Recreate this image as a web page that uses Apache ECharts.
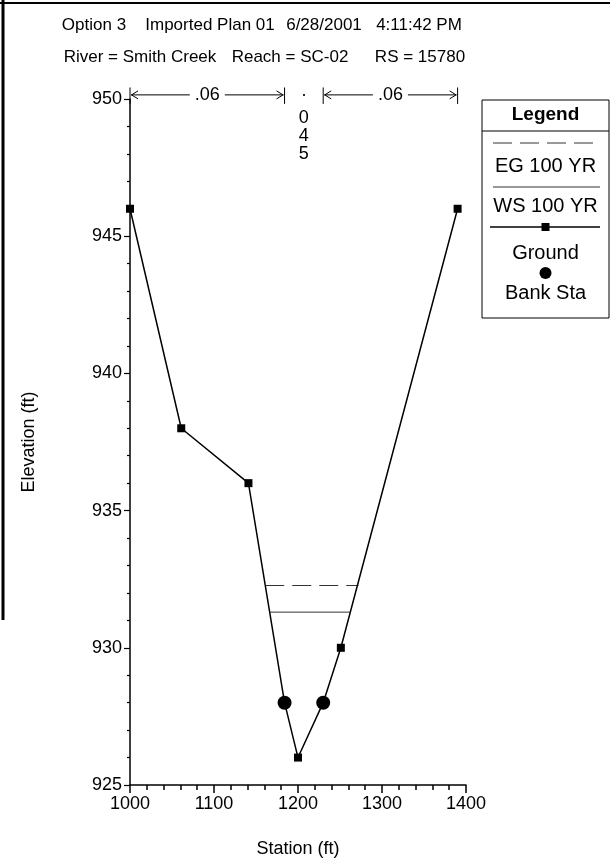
<!DOCTYPE html>
<html><head><meta charset="utf-8">
<script src="https://cdn.jsdelivr.net/npm/echarts@6/dist/echarts.min.js"></script>
<style>html,body{margin:0;padding:0;background:#fff}#c{width:610px;height:865px}</style>
</head><body><div id="c"></div>
<script>
// ---- data ----
const titleLine1 = ['Option 3', 'Imported Plan 01', '6/28/2001', '4:11:42 PM'];
const titleLine2 = ['River = Smith Creek', 'Reach = SC-02', 'RS = 15780'];
const groundStation = [1000, 1061, 1141, 1184, 1200, 1230, 1251, 1390];
const groundElev    = [946, 938, 936, 928, 926, 928, 930, 946];
const bankStation = [1184, 1230];
const bankElev    = [928, 928];
const egStation = [1161, 1272];
const egElev    = [932.27, 932.27];
const wsStation = [1166, 1263];
const wsElev    = [931.3, 931.3];
const manningBreaks = [1000, 1184, 1230, 1390];
const manningN = ['.06', '.045', '.06'];
const manningElev = 950.15;
const xTicks = [1000, 1100, 1200, 1300, 1400];
const yTicks = [925, 930, 935, 940, 945, 950];
const legendNames = ['EG 100 YR', 'WS 100 YR', 'Ground', 'Bank Sta'];

const FONT = '"Liberation Sans", Arial, Helvetica, sans-serif';
const zip = (a, b) => a.map((v, i) => [v, b[i]]);

// Manning zones: [startStation, endStation, elevation, zoneIndex]
const nZones = manningN.map((n, i) => [manningBreaks[i], manningBreaks[i + 1], manningElev, i]);

function renderManning(params, api) {
  const sA = api.value(0), sB = api.value(1), el = api.value(2), idx = api.value(3);
  const p1 = api.coord([sA, el]);
  const p2 = api.coord([sB, el]);
  const top = api.coord([sA, el + 0.27])[1];
  const bot = api.coord([sA, el - 0.33])[1];
  const y = p1[1];
  const midX = (p1[0] + p2[0]) / 2;
  const ls = { stroke: '#000', lineWidth: 1, fill: null };
  const children = [];
  if (idx === 1) {
    // channel n written vertically
    manningN[idx].split('').forEach((ch, i) => {
      children.push({
        type: 'text',
        style: { text: ch, x: midX, y: y + (i === 0 ? -4 : 5 + 18 * i), align: 'center', verticalAlign: 'middle',
          font: '18px ' + FONT, fill: '#000' }
      });
    });
    return { type: 'group', children };
  }
  children.push(
    { type: 'line', shape: { x1: p1[0], y1: top, x2: p1[0], y2: bot }, style: ls },
    { type: 'line', shape: { x1: p2[0], y1: top, x2: p2[0], y2: bot }, style: ls },
    { type: 'line', shape: { x1: p1[0] + 1, y1: y, x2: p2[0] - 1, y2: y }, style: ls },
    { type: 'polyline', shape: { points: [[p1[0] + 8, y - 4], [p1[0] + 1.5, y], [p1[0] + 8, y + 4]] }, style: ls },
    { type: 'polyline', shape: { points: [[p2[0] - 8, y - 4], [p2[0] - 1.5, y], [p2[0] - 8, y + 4]] }, style: ls },
    {
      type: 'text',
      style: { text: manningN[idx], x: midX, y: y, align: 'center', verticalAlign: 'middle',
        font: '18px ' + FONT, fill: '#000', backgroundColor: '#fff', padding: [0, 5] }
    }
  );
  return { type: 'group', children };
}

const chart = echarts.init(document.getElementById('c'), null, { renderer: 'canvas' });

const gText = (x, y, text, opts = {}) => Object.assign({
  type: 'text', x, y,
  style: Object.assign({ text, fill: '#000', font: '17px ' + FONT, textAlign: 'center', textVerticalAlign: 'middle' }, opts)
});

const LX = 482, LY = 100, LW = 127, LH = 218, LC = LX + LW / 2;
const graphics = [
  // frame lines (scan border)
  { type: 'line', shape: { x1: 0, y1: 3, x2: 610, y2: 3 }, style: { stroke: '#000', lineWidth: 2 } },
  { type: 'line', shape: { x1: 3, y1: 0, x2: 3, y2: 620 }, style: { stroke: '#000', lineWidth: 3 } },
  // title
  gText(94, 25, titleLine1[0]), gText(210, 25, titleLine1[1]), gText(324, 25, titleLine1[2]), gText(419, 25, titleLine1[3]),
  gText(140, 57, titleLine2[0]), gText(290, 57, titleLine2[1]), gText(420, 57, titleLine2[2]),
  // legend box
  { type: 'rect', shape: { x: LX, y: LY, width: LW, height: LH }, style: { fill: '#fff', stroke: '#000', lineWidth: 1 } },
  gText(LC, 115, 'Legend', { font: 'bold 19px ' + FONT }),
  { type: 'line', shape: { x1: LX, y1: 131, x2: LX + LW, y2: 131 }, style: { stroke: '#000', lineWidth: 1 } },
  { type: 'line', shape: { x1: 493, y1: 143, x2: 600, y2: 143 }, style: { stroke: '#333', lineWidth: 1, lineDash: [19, 8] } },
  gText(LC, 166, legendNames[0], { font: '20px ' + FONT }),
  { type: 'line', shape: { x1: 493, y1: 187, x2: 600, y2: 187 }, style: { stroke: '#333', lineWidth: 1 } },
  gText(LC, 206, legendNames[1], { font: '20px ' + FONT }),
  { type: 'line', shape: { x1: 490, y1: 227, x2: 600, y2: 227 }, style: { stroke: '#000', lineWidth: 1.5 } },
  { type: 'rect', shape: { x: LC - 4, y: 223, width: 8, height: 8 }, style: { fill: '#000' } },
  gText(LC, 253, legendNames[2], { font: '20px ' + FONT }),
  { type: 'circle', shape: { cx: LC, cy: 273, r: 6 }, style: { fill: '#000' } },
  gText(LC, 293, legendNames[3], { font: '20px ' + FONT })
];

const option = {
  backgroundColor: '#fff',
  animation: false,
  grid: { left: 130, right: 144, top: 99, bottom: 80 },
  xAxis: {
    type: 'value', min: xTicks[0], max: xTicks[xTicks.length - 1], interval: 100,
    name: 'Station (ft)', nameLocation: 'middle', nameGap: 55,
    nameTextStyle: { color: '#000', fontSize: 18, fontFamily: FONT },
    axisLine: { lineStyle: { color: '#000', width: 1.5 } },
    axisTick: { show: true, length: 8, lineStyle: { color: '#000', width: 1.5 } },
    minorTick: { show: true, splitNumber: 5, length: 5, lineStyle: { color: '#000', width: 1.5 } },
    axisLabel: { color: '#000', fontSize: 18, fontFamily: FONT, margin: 10, formatter: v => String(v) },
    splitLine: { show: false }, minorSplitLine: { show: false }
  },
  yAxis: {
    type: 'value', min: yTicks[0], max: yTicks[yTicks.length - 1], interval: 5,
    name: 'Elevation (ft)', nameLocation: 'middle', nameGap: 92, nameRotate: 90,
    nameTextStyle: { color: '#000', fontSize: 18, fontFamily: FONT },
    axisLine: { show: true, lineStyle: { color: '#000', width: 1.5 } },
    axisTick: { show: true, length: 6, lineStyle: { color: '#000', width: 1.2 } },
    minorTick: { show: true, splitNumber: 5, length: 3, lineStyle: { color: '#000', width: 1.2 } },
    axisLabel: { color: '#000', fontSize: 18, fontFamily: FONT, margin: 8, formatter: v => String(v) },
    splitLine: { show: false }, minorSplitLine: { show: false }
  },
  graphic: graphics,
  series: [
    {
      name: 'EG 100 YR', type: 'line', data: zip(egStation, egElev), symbol: 'none',
      lineStyle: { color: '#333', width: 1, type: [19, 8] }, z: 2
    },
    {
      name: 'WS 100 YR', type: 'line', data: zip(wsStation, wsElev), symbol: 'none',
      lineStyle: { color: '#333', width: 1 }, z: 2
    },
    {
      name: 'Ground', type: 'line', data: zip(groundStation, groundElev),
      symbol: 'rect', symbolSize: 8, showSymbol: true,
      itemStyle: { color: '#000' }, lineStyle: { color: '#000', width: 1.5 }, z: 3
    },
    {
      name: 'Bank Sta', type: 'scatter', data: zip(bankStation, bankElev),
      symbol: 'circle', symbolSize: 14, itemStyle: { color: '#000', opacity: 1 }, z: 4
    },
    {
      name: 'Manning n', type: 'custom', data: nZones, clip: false, silent: true,
      renderItem: renderManning, z: 5
    }
  ]
};
chart.setOption(option);
</script>
</body></html>
